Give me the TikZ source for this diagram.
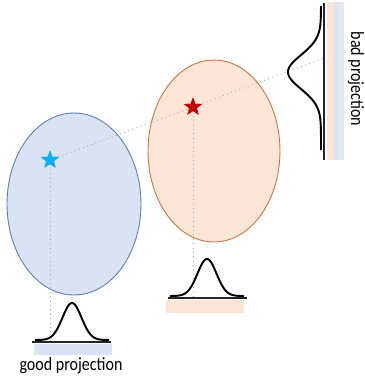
\documentclass[tikz,border=0pt]{standalone}
\usepackage{fontspec}
\setmainfont{Carlito}[FakeStretch=0.86]
\usepackage{tikz}
\usetikzlibrary{shapes.geometric}
\definecolor{setblue}{HTML}{DAE3F3}
\definecolor{setblueline}{HTML}{5B7DB8}
\definecolor{setorange}{HTML}{FBE5D6}
\definecolor{setorangeline}{HTML}{C9733F}
\definecolor{starblue}{HTML}{00B0F0}
\definecolor{starred}{HTML}{C00000}
\tikzset{
  blob/.style={draw, ellipse, line width=0.5pt, inner sep=0pt},
  pt/.style={star, star points=5, star point ratio=2.4, minimum size=0.38cm,
             inner sep=0pt, draw=none},
  proj/.style={gray!70, dotted, line width=0.5pt},
  curve/.style={line width=1.1pt, black},
  axisline/.style={line width=1.2pt, black!85},
  lbl/.style={font=\fontsize{10.6}{12}\selectfont, inner sep=0pt},
}
\begin{document}
\begin{tikzpicture}[x=0.02cm, y=-0.02cm]
    \useasboundingbox (0,0) rectangle (365,382);
    % the two sets
    \node[blob, fill=setblue, draw=setblueline, minimum width=2.68cm,
          minimum height=3.64cm] (blueset) at (74,204) {};
    \node[blob, fill=setorange, draw=setorangeline, minimum width=2.64cm,
          minimum height=3.64cm] (orangeset) at (214,151) {};

    % projection strips
    \fill[setblue] (34,344) rectangle (112,355);
    \fill[setorange] (166,300) rectangle (244,313);
    \fill[setorange] (327,2) rectangle (338,160);
    \fill[setblue, opacity=0.85] (334,2) rectangle (344,160);

    % axes
    \coordinate (goodL) at (32,342);
    \coordinate (goodR) at (111,342);
    \coordinate (midL) at (168,298);
    \coordinate (midR) at (247,298);
    \coordinate (badT) at (324,3);
    \coordinate (badB) at (324,160);
    \draw[axisline] (goodL) -- (goodR);
    \draw[axisline] (midL) -- (midR);
    \draw[axisline] (badT) -- (badB);

    % stars and their projections
    \node[pt, fill=starblue] (starA) at (50,160) {};
    \node[pt, fill=starred] (starB) at (193,107) {};
    \coordinate (hitA) at (50,342);
    \coordinate (hitB) at (193,298);
    \coordinate (hitC) at (324,58);
    \draw[proj] (starA.center) -- (hitA);
    \draw[proj] (starB.center) -- (hitB);
    \draw[proj] (starA.center) -- (starB.center) -- (hitC);
    \node[pt, fill=starblue] at (starA) {};
    \node[pt, fill=starred] at (starB) {};

    % densities
    \draw[curve] plot[domain=-37:37, samples=80, smooth]
      ({72+\x},{340-37*exp(-(\x/9.5)^2/2)});
    \draw[curve] plot[domain=-37:37, samples=80, smooth]
      ({207+\x},{296-37*exp(-(\x/9.5)^2/2)});
    \draw[curve] plot[domain=-66:78, samples=100, smooth]
      ({321-33*exp(-(\x/17)^2/2)},{72+\x});

    % labels
    \node[lbl] (goodlbl) at (71,366) {good projection};
    \node[lbl, rotate=-90] (badlbl) at (356,79) {bad projection};
\end{tikzpicture}
\end{document}
